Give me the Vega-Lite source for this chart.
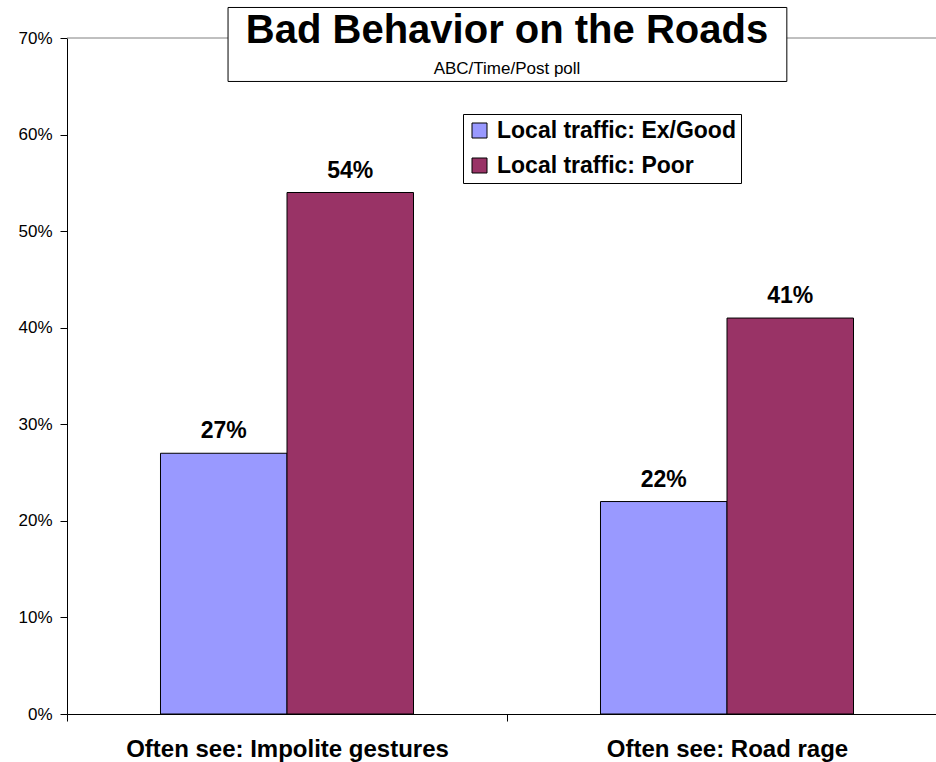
{
  "$schema": "https://vega.github.io/schema/vega-lite/v6.json",
  "width": 880,
  "height": 676,
  "autosize": {"type": "none"},
  "padding": {"left": 67, "top": 38, "right": 0, "bottom": 48},
  "background": "white",
  "config": {
    "font": "Liberation Sans",
    "view": {"stroke": null}
  },
  "title": {
    "text": "Bad Behavior on the Roads",
    "subtitle": "ABC/Time/Post poll",
    "anchor": "middle",
    "frame": "group",
    "fontSize": 40,
    "fontWeight": "bold",
    "color": "black",
    "subtitleFontSize": 17,
    "subtitleColor": "black",
    "subtitlePadding": 10,
    "offset": -70
  },
  "datasets": {
    "poll": [
      {"item": "Often see: Impolite gestures", "group": "Local traffic: Ex/Good", "share": 0.27},
      {"item": "Often see: Impolite gestures", "group": "Local traffic: Poor", "share": 0.54},
      {"item": "Often see: Road rage", "group": "Local traffic: Ex/Good", "share": 0.22},
      {"item": "Often see: Road rage", "group": "Local traffic: Poor", "share": 0.41}
    ],
    "titlebox": [
      {"x0": 0.366, "x1": 1.636, "y0": 0.7316, "y1": 0.655}
    ]
  },
  "layer": [
    {
      "data": {"values": [{}]},
      "mark": {"type": "rule", "color": "#808080", "strokeWidth": 1},
      "encoding": {
        "y": {"datum": 0.7, "type": "quantitative", "scale": {"domain": [0, 0.7]}}
      }
    },
    {
      "data": {"name": "poll"},
      "layer": [
        {
          "mark": {"type": "bar", "stroke": "black", "strokeWidth": 1},
          "encoding": {
            "x": {
              "field": "item", "type": "nominal", "sort": null,
              "scale": {"paddingInner": 0, "paddingOuter": 0},
              "axis": {
                "title": null,
                "labelAngle": 0,
                "labelFontSize": 24,
                "labelFontWeight": "bold",
                "labelColor": "black",
                "labelPadding": 16,
                "labelLimit": 600,
                "domainColor": "black",
                "tickColor": "black",
                "tickSize": 7,
                "tickBand": "extent",
                "zindex": 1
              }
            },
            "xOffset": {
              "field": "group", "type": "nominal", "sort": null,
              "scale": {"paddingInner": 0, "paddingOuter": 0.739}
            },
            "y": {
              "field": "share", "type": "quantitative",
              "scale": {"domain": [0, 0.7]},
              "axis": {
                "title": null,
                "format": ".0%",
                "values": [0, 0.1, 0.2, 0.3, 0.4, 0.5, 0.6, 0.7],
                "grid": false,
                "labelFontSize": 17,
                "labelColor": "black",
                "labelPadding": 8,
                "domainColor": "black",
                "tickColor": "black",
                "tickSize": 7
              }
            },
            "fill": {
              "field": "group", "type": "nominal",
              "scale": {
                "domain": ["Local traffic: Ex/Good", "Local traffic: Poor"],
                "range": ["#9999FF", "#993366"]
              },
              "legend": {
                "title": null,
                "orient": "none",
                "legendX": 396,
                "legendY": 76,
                "fillColor": "white",
                "strokeColor": "black",
                "padding": 5,
                "symbolType": "square",
                "symbolSize": 225,
                "symbolStrokeColor": "black",
                "symbolStrokeWidth": 1,
                "symbolOpacity": 1,
                "labelFontSize": 23,
                "labelFontWeight": "bold",
                "labelColor": "black",
                "labelOffset": 6,
                "labelLimit": 400,
                "rowPadding": 11
              }
            }
          }
        },
        {
          "mark": {"type": "text", "fontSize": 23, "fontWeight": "bold", "color": "black", "baseline": "alphabetic", "dy": -15},
          "encoding": {
            "x": {"field": "item", "type": "nominal", "sort": null},
            "xOffset": {"field": "group", "type": "nominal", "sort": null},
            "y": {"field": "share", "type": "quantitative"},
            "text": {"field": "share", "type": "quantitative", "format": ".0%"}
          }
        }
      ]
    },
    {
      "data": {"name": "titlebox"},
      "mark": {"type": "rect", "fill": "white", "stroke": "black", "strokeWidth": 1},
      "encoding": {
        "x": {"field": "x0", "type": "quantitative", "scale": {"domain": [0, 2]}, "axis": null},
        "x2": {"field": "x1"},
        "y": {"field": "y0", "type": "quantitative"},
        "y2": {"field": "y1"}
      }
    }
  ],
  "resolve": {"scale": {"x": "independent"}}
}
